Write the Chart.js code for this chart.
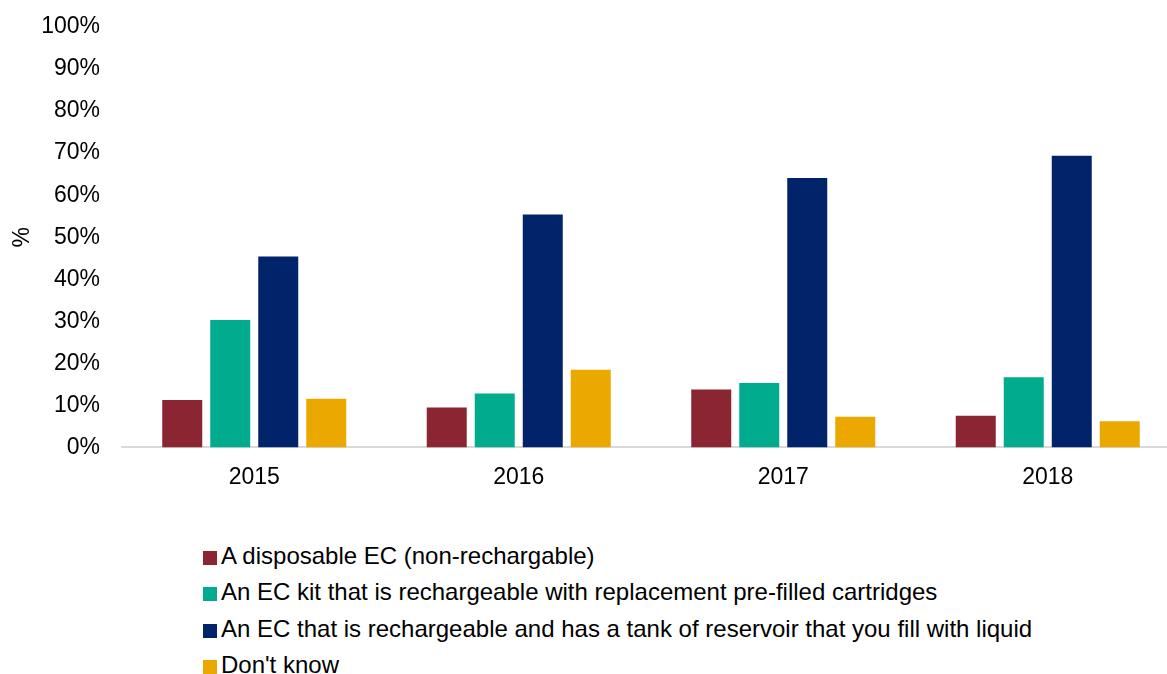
<!DOCTYPE html>
<html>
<head>
<meta charset="utf-8">
<script src="https://cdn.jsdelivr.net/npm/chart.js@4.4.1/dist/chart.umd.min.js"></script>
<style>
    html, body { margin: 0; padding: 0; background: #fff; overflow: hidden; }
    body { width: 1167px; height: 674px; position: relative; font-family: "Liberation Sans", Arial, sans-serif; }
    #wrap { position: absolute; left: 0; top: 0; width: 1180px; height: 517px; }
    #legend { position: absolute; left: 203px; top: 538px; }
    #legend .row { height: 36.3px; line-height: 36.3px; font-size: 24px; color: #000; white-space: nowrap; }
    #legend .box { display: inline-block; width: 14px; height: 14px; margin-right: 4px; vertical-align: -1px; }
</style>
</head>
<body>
<div id="wrap"><canvas id="chart1"></canvas></div>
<div id="legend"></div>
<script>
// data
var years = ["2015", "2016", "2017", "2018"];
var seriesNames = [
    "A disposable EC (non-rechargable)",
    "An EC kit that is rechargeable with replacement pre-filled cartridges",
    "An EC that is rechargeable and has a tank of reservoir that you fill with liquid",
    "Don't know"
];
var disposable = [11.3, 9.5, 13.8, 7.5];
var kit = [30.3, 12.8, 15.3, 16.7];
var tank = [45.4, 55.4, 64.1, 69.4];
var dontKnow = [11.6, 18.5, 7.3, 6.2];
var colors = ["#8b2532", "#00ab8e", "#002369", "#eba900"];

var font = "'Liberation Sans', Arial, sans-serif";
var allValues = [disposable, kit, tank, dontKnow];

var char1El = document.getElementById('chart1');
var chart1 = new Chart(char1El, {
    type: 'bar',
    data: {
        labels: years,
        datasets: allValues.map(function (vals, i) {
            return {
                label: seriesNames[i],
                backgroundColor: colors[i],
                data: vals,
                categoryPercentage: 0.726,
                barPercentage: 0.833
            };
        })
    },
    options: {
        responsive: true,
        maintainAspectRatio: false,
        animation: false,
        layout: {
            padding: { top: 27, bottom: 10, left: 0, right: 0 }
        },
        plugins: {
            legend: { display: false },
            tooltip: { enabled: false }
        },
        scales: {
            x: {
                grid: { display: false, drawTicks: false },
                border: { color: '#d9d9d9', width: 2 },
                ticks: {
                    color: '#000',
                    padding: 16,
                    font: { family: font, size: 23 }
                }
            },
            y: {
                min: 0,
                max: 100,
                grid: { display: false, drawTicks: false },
                border: { display: false },
                ticks: {
                    stepSize: 10,
                    color: '#000',
                    padding: 22,
                    font: { family: font, size: 23 },
                    callback: function (v) { return v + '%'; }
                },
                title: {
                    display: true,
                    text: '%',
                    color: '#000',
                    padding: { top: 9, bottom: 0 },
                    font: { family: font, size: 23 }
                },
                afterFit: function (scale) {
                    scale.width = 122;
                    // don't let the tick padding push the plot down
                    scale.paddingTop = 0;
                    scale.paddingBottom = 0;
                }
            }
        }
    }
});

// legend, one row per series
var legendEl = document.getElementById('legend');
chart1.data.datasets.forEach(function (ds) {
    var row = document.createElement('div');
    row.className = 'row';
    var box = document.createElement('span');
    box.className = 'box';
    box.style.background = ds.backgroundColor;
    row.appendChild(box);
    row.appendChild(document.createTextNode(ds.label));
    legendEl.appendChild(row);
});
</script>
</body>
</html>
